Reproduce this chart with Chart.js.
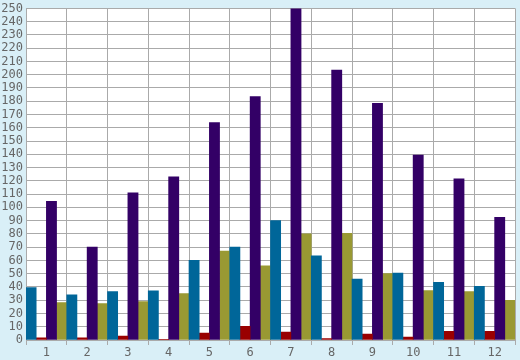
<!DOCTYPE html>
<html>
<head>
<meta charset="utf-8">
<script src="https://cdn.jsdelivr.net/npm/chart.js@4/dist/chart.umd.min.js"></script>
<style>
    html, body { margin: 0; padding: 0; background: #d9eff7; }
    #wrap { width: 520px; height: 360px; }
</style>
</head>
<body>
<div id="wrap"><canvas id="chart" width="520" height="360"></canvas></div>
<script>
const categories = ['1', '2', '3', '4', '5', '6', '7', '8', '9', '10', '11', '12'];
const blueValues = [39.5, 34, 36.5, 37, 60, 70, 90, 63.5, 46, 50.5, 43.5, 40.5];
const redValues = [1.7, 1.7, 3, 0.5, 5.2, 10.4, 6, 1, 4.5, 2.2, 6.6, 6.6];
const purpleValues = [104.5, 70, 111, 123, 164, 183.5, 250, 203.5, 178.5, 139.5, 121.5, 92.5];
const oliveValues = [28.3, 27.5, 29, 35, 67, 56, 80, 80.5, 50, 37.3, 36.5, 30];
const yTicks = { min: 0, max: 250, step: 10 };

// white plot area on the light blue page
const plotBackground = {
    id: 'plotBackground',
    beforeDraw(chart) {
        const { ctx, chartArea } = chart;
        ctx.save();
        ctx.fillStyle = '#ffffff';
        ctx.fillRect(chartArea.left, chartArea.top, chartArea.right - chartArea.left, chartArea.bottom - chartArea.top);
        ctx.restore();
    }
};

const tickFont = { family: 'DejaVu Sans Mono', size: 12, lineHeight: 0.9 };

new Chart(document.getElementById('chart').getContext('2d'), {
    type: 'bar',
    data: {
        labels: categories,
        datasets: [
            { label: 'A', data: blueValues, backgroundColor: '#006699' },
            { label: 'B', data: redValues, backgroundColor: '#990000' },
            { label: 'C', data: purpleValues, backgroundColor: '#330066' },
            { label: 'D', data: oliveValues, backgroundColor: '#999933' }
        ]
    },
    options: {
        responsive: false,
        animation: false,
        events: [],
        layout: { padding: { top: 0, right: 5, left: 0, bottom: 0 } },
        datasets: {
            bar: { categoryPercentage: 1, barPercentage: 1, borderWidth: 0 }
        },
        plugins: {
            legend: { display: false },
            tooltip: { enabled: false }
        },
        scales: {
            x: {
                grid: { color: '#aaaaaa', lineWidth: 1, tickLength: 5, offset: true },
                border: { color: '#aaaaaa' },
                ticks: { color: '#666666', font: tickFont, padding: 2 },
                afterFit(scale) { scale.height = 20; }
            },
            y: {
                min: yTicks.min,
                max: yTicks.max,
                grid: { color: '#aaaaaa', lineWidth: 1, drawTicks: false },
                border: { color: '#aaaaaa' },
                ticks: { stepSize: yTicks.step, autoSkip: false, color: '#666666', font: tickFont, padding: 3 },
                afterFit(scale) { scale.width = 26; }
            }
        }
    },
    plugins: [plotBackground]
});
</script>
</body>
</html>
